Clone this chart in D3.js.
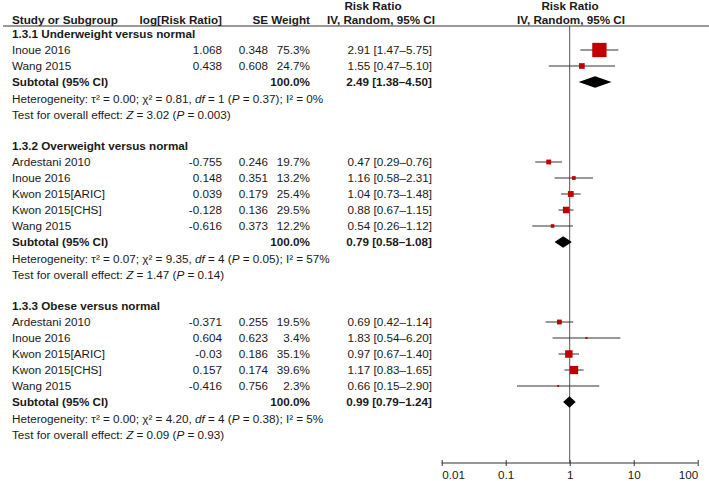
<!DOCTYPE html>
<html>
<head>
<meta charset="utf-8">
<script src="https://cdn.jsdelivr.net/npm/d3@7"></script>
<style>
  html, body { margin: 0; padding: 0; background: #fff; }
  svg { display: block; font-family: "Liberation Sans", Arial, sans-serif; }
</style>
</head>
<body>
<svg id="chart" width="709" height="481"></svg>
<script>
// ---------------- DATA ----------------
const groupTitles = [
  "1.3.1 Underweight versus normal",
  "1.3.2 Overweight versus normal",
  "1.3.3 Obese versus normal"
];
const studyNames = [
  ["Inoue 2016", "Wang 2015"],
  ["Ardestani 2010", "Inoue 2016", "Kwon 2015[ARIC]", "Kwon 2015[CHS]", "Wang 2015"],
  ["Ardestani 2010", "Inoue 2016", "Kwon 2015[ARIC]", "Kwon 2015[CHS]", "Wang 2015"]
];
const logRR = [
  [1.068, 0.438],
  [-0.755, 0.148, 0.039, -0.128, -0.616],
  [-0.371, 0.604, -0.03, 0.157, -0.416]
];
const seValues = [
  [0.348, 0.608],
  [0.246, 0.351, 0.179, 0.136, 0.373],
  [0.255, 0.623, 0.186, 0.174, 0.756]
];
const weights = [
  [75.3, 24.7],
  [19.7, 13.2, 25.4, 29.5, 12.2],
  [19.5, 3.4, 35.1, 39.6, 2.3]
];
const riskRatio = [
  [2.91, 1.55],
  [0.47, 1.16, 1.04, 0.88, 0.54],
  [0.69, 1.83, 0.97, 1.17, 0.66]
];
const ciLow = [
  [1.47, 0.47],
  [0.29, 0.58, 0.73, 0.67, 0.26],
  [0.42, 0.54, 0.67, 0.83, 0.15]
];
const ciHigh = [
  [5.75, 5.10],
  [0.76, 2.31, 1.48, 1.15, 1.12],
  [1.14, 6.20, 1.40, 1.65, 2.90]
];
const subtotalRR = [2.49, 0.79, 0.99];
const subtotalLow = [1.38, 0.58, 0.79];
const subtotalHigh = [4.50, 1.08, 1.24];
const tau2 = ["0.00", "0.07", "0.00"];
const chi2 = ["0.81", "9.35", "4.20"];
const dfs = [1, 4, 4];
const hetP = ["0.37", "0.05", "0.38"];
const i2 = ["0%", "57%", "5%"];
const zValues = ["3.02", "1.47", "0.09"];
const zP = ["0.003", "0.14", "0.93"];
const axisTicks = [0.01, 0.1, 1, 10, 100];
const axisTickLabels = ["0.01", "0.1", "1", "10", "100"];

// ---------------- LAYOUT ----------------
const svg = d3.select("#chart");
const textColor = "#1a1a1a";
const fs = 11.7;
const ROW0 = 34, STEP = 16, BASE = 4;
const xStudy = 12, xLog = 222, xSE = 268, xWeight = 310, xCI = 432;
const axisY = 463, headerLineY = 26;

const x = d3.scaleLog().domain([0.01, 100]).range([441.7, 697.7]);
const sizeScale = d3.scaleLinear().domain([0, 100]).range([1.5, 18.5]);

function txt(xp, yp, s, opts = {}) {
  return svg.append("text")
    .attr("x", xp).attr("y", yp)
    .attr("font-size", fs)
    .attr("fill", textColor)
    .attr("text-anchor", opts.anchor || "start")
    .attr("font-weight", opts.bold ? "bold" : "normal")
    .text(s);
}
function fmtCI(r, l, h) { return r.toFixed(2) + " [" + l.toFixed(2) + "\u2013" + h.toFixed(2) + "]"; }

// Header
txt(373, 10, "Risk Ratio", { anchor: "middle", bold: true });
txt(570, 10, "Risk Ratio", { anchor: "middle", bold: true });
txt(xStudy, 24, "Study or Subgroup", { bold: true });
txt(xLog, 24, "log[Risk Ratio]", { anchor: "end", bold: true });
txt(xSE, 24, "SE", { anchor: "end", bold: true });
txt(xWeight, 24, "Weight", { anchor: "end", bold: true });
txt(381, 24, "IV, Random, 95% CI", { anchor: "middle", bold: true });
txt(571, 24, "IV, Random, 95% CI", { anchor: "middle", bold: true });
svg.append("line").attr("x1", 3).attr("x2", 709).attr("y1", headerLineY).attr("y2", headerLineY)
  .attr("stroke", "#333").attr("stroke-width", 1);

// Null line
svg.append("line").attr("x1", x(1)).attr("x2", x(1)).attr("y1", headerLineY).attr("y2", axisY)
  .attr("stroke", "#555").attr("stroke-width", 1);

// Groups
let row = 0;
groupTitles.forEach((title, g) => {
  const yOf = r => ROW0 + r * STEP;
  txt(xStudy, yOf(row) + BASE, title, { bold: true });
  studyNames[g].forEach((name, i) => {
    const y = yOf(row + 1 + i);
    txt(xStudy, y + BASE, name);
    txt(xLog, y + BASE, String(logRR[g][i]), { anchor: "end" });
    txt(xSE, y + BASE, String(seValues[g][i]), { anchor: "end" });
    txt(xWeight, y + BASE, weights[g][i].toFixed(1) + "%", { anchor: "end" });
    txt(xCI, y + BASE, fmtCI(riskRatio[g][i], ciLow[g][i], ciHigh[g][i]), { anchor: "end" });
    svg.append("line")
      .attr("x1", x(ciLow[g][i])).attr("x2", x(ciHigh[g][i]))
      .attr("y1", y).attr("y2", y)
      .attr("stroke", "#333").attr("stroke-width", 1);
    const s = sizeScale(weights[g][i]);
    svg.append("rect")
      .attr("x", x(riskRatio[g][i]) - s / 2).attr("y", y - s / 2)
      .attr("width", s).attr("height", s)
      .attr("fill", "#c00000");
  });
  const n = studyNames[g].length;
  const ySub = yOf(row + n + 1);
  txt(xStudy, ySub + BASE, "Subtotal (95% CI)", { bold: true });
  txt(xWeight, ySub + BASE, "100.0%", { anchor: "end", bold: true });
  txt(xCI, ySub + BASE, fmtCI(subtotalRR[g], subtotalLow[g], subtotalHigh[g]), { anchor: "end", bold: true });
  const dh = 5.8;
  svg.append("path")
    .attr("d", `M${x(subtotalLow[g])},${ySub} L${x(subtotalRR[g])},${ySub - dh} L${x(subtotalHigh[g])},${ySub} L${x(subtotalRR[g])},${ySub + dh} Z`)
    .attr("fill", "#000");

  // Heterogeneity
  const yHet = yOf(row + n + 2) + BASE + 1;
  const het = svg.append("text").attr("x", xStudy).attr("y", yHet)
    .attr("font-size", fs).attr("fill", textColor);
  [
    ["Heterogeneity: \u03c4\u00b2 = " + tau2[g] + "; \u03c7\u00b2 = " + chi2[g] + ", ", false],
    ["df", true],
    [" = " + dfs[g] + " (", false],
    ["P", true],
    [" = " + hetP[g] + "); I\u00b2 = " + i2[g], false]
  ].forEach(([s, it]) => het.append("tspan").attr("font-style", it ? "italic" : "normal").text(s));

  const yTest = yOf(row + n + 3) + BASE + 1;
  const tst = svg.append("text").attr("x", xStudy).attr("y", yTest)
    .attr("font-size", fs).attr("fill", textColor);
  [["Test for overall effect: ", false], ["Z", true], [" = " + zValues[g] + " (", false], ["P", true], [" = " + zP[g] + ")", false]]
    .forEach(([s, it]) => tst.append("tspan").attr("font-style", it ? "italic" : "normal").text(s));

  row = row + n + 5;
});

// Axis
const axis = d3.axisBottom(x).tickValues(axisTicks)
  .tickFormat((d, i) => axisTickLabels[i]).tickSize(3).tickPadding(4);
const ag = svg.append("g").attr("transform", `translate(0,${axisY})`).call(axis);
ag.select(".domain").attr("d", `M${x(0.01)},0H${x(100)}`).attr("stroke", "#333");
ag.selectAll(".tick line").attr("y1", -3).attr("y2", 3).attr("stroke", "#333");
ag.selectAll(".tick text")
  .attr("font-size", fs).attr("fill", textColor)
  .attr("font-family", "Liberation Sans, Arial, sans-serif")
  .attr("y", 8).attr("dy", "0.71em")
  .attr("text-anchor", (d, i) => i === 0 ? "start" : (i === axisTicks.length - 1 ? "end" : "middle"));
</script>
</body>
</html>
